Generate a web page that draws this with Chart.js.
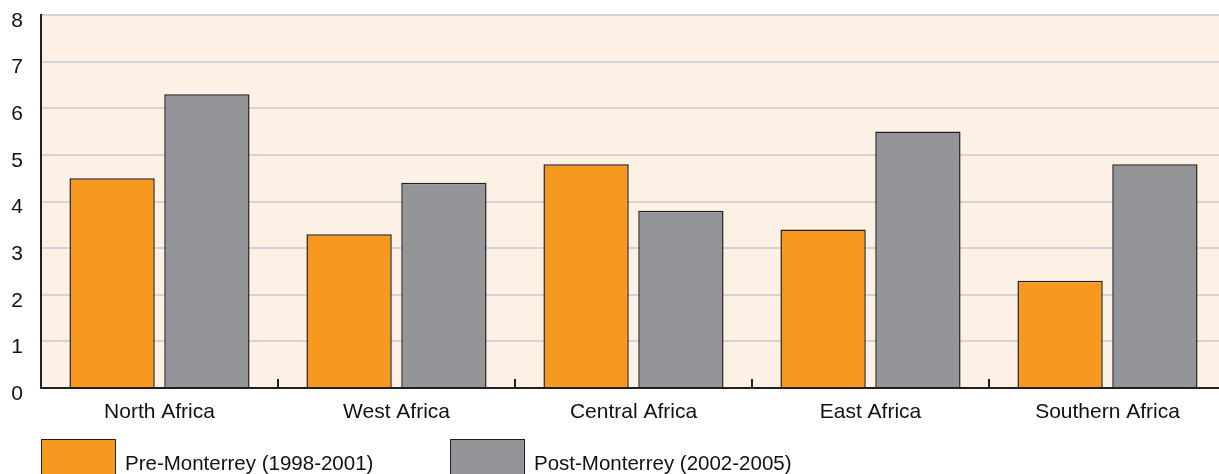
<!DOCTYPE html>
<html>
<head>
<meta charset="utf-8">
<script src="https://cdn.jsdelivr.net/npm/chart.js@4/dist/chart.umd.min.js"></script>
<style>
  html, body { margin: 0; padding: 0; background: #ffffff; overflow: hidden; width: 1219px; height: 474px; }
  #wrap { position: absolute; left: 0; top: 0; width: 1226px; height: 474px; }
  #legend { position: absolute; left: 41px; top: 439px; font-family: "Liberation Sans", Arial, sans-serif; font-size: 20.5px; color: #111; white-space: nowrap; }
  .item { position: absolute; top: 0; height: 40px; }
  .box { position: absolute; left: 0; top: 0; width: 73px; height: 40px; border: 1px solid #231f20; }
  .lbl { position: absolute; left: 84px; top: 12px; }
</style>
</head>
<body>
<div id="wrap"><canvas id="c" width="1226" height="474"></canvas></div>
<div id="legend"></div>
<script>
const categories = ['North Africa', 'West Africa', 'Central Africa', 'East Africa', 'Southern Africa'];
const preMonterrey = [4.5, 3.3, 4.8, 3.4, 2.3];
const postMonterrey = [6.3, 4.4, 3.8, 5.5, 4.8];
const seriesNames = ['Pre-Monterrey (1998-2001)', 'Post-Monterrey (2002-2005)'];
const seriesColors = ['#f7981f', '#939598'];
const yTicks = [0, 1, 2, 3, 4, 5, 6, 7, 8];

const FONT = "'Liberation Sans', Arial, sans-serif";

const bgPlugin = {
  id: 'bg',
  beforeDraw(chart) {
    const a = chart.chartArea;
    const ctx = chart.ctx;
    ctx.save();
    ctx.fillStyle = '#fdf1e5';
    ctx.fillRect(a.left, a.top, a.right - a.left, a.bottom - a.top);
    ctx.restore();
  }
};

new Chart(document.getElementById('c'), {
  type: 'bar',
  data: {
    labels: categories,
    datasets: [
      { label: seriesNames[0], data: preMonterrey, backgroundColor: seriesColors[0], borderColor: '#231f20', borderWidth: 1.5 },
      { label: seriesNames[1], data: postMonterrey, backgroundColor: seriesColors[1], borderColor: '#231f20', borderWidth: 1.5 }
    ]
  },
  options: {
    responsive: false,
    animation: false,
    layout: { padding: { top: 15, right: 0, left: 0, bottom: 0 } },
    datasets: { bar: { categoryPercentage: 0.8, barPercentage: 0.9 } },
    plugins: { legend: { display: false }, tooltip: { enabled: false } },
    scales: {
      x: {
        afterFit(s) { s.height = 474 - 388; s.paddingLeft = 0; s.paddingRight = 0; },
        grid: { display: true, drawOnChartArea: false, drawTicks: true, tickLength: -9, color: '#231f20', lineWidth: 2 },
        border: { display: true, color: '#231f20', width: 2 },
        ticks: { color: '#111', font: { family: FONT, size: 21 }, padding: 21 }
      },
      y: {
        min: 0, max: 8,
        afterFit(s) { s.width = 41; s.paddingTop = 0; s.paddingBottom = 0; },
        afterBuildTicks(s) { s.ticks = yTicks.map(v => ({ value: v })); },
        grid: { drawTicks: false, lineWidth: 2, color: (ctx) => (ctx.tick && ctx.tick.value === 0) ? 'rgba(0,0,0,0)' : '#d3d4d5' },
        border: { display: true, color: '#231f20', width: 2 },
        ticks: { color: '#111', font: { family: FONT, size: 21 }, padding: 18, labelOffset: 6 }
      }
    }
  },
  plugins: [bgPlugin]
});

const legend = document.getElementById('legend');
const offsets = [0, 409];
seriesNames.forEach((name, i) => {
  const it = document.createElement('div');
  it.className = 'item';
  it.style.left = offsets[i] + 'px';
  const b = document.createElement('div');
  b.className = 'box';
  b.style.background = seriesColors[i];
  const t = document.createElement('span');
  t.className = 'lbl';
  t.textContent = name;
  it.appendChild(b); it.appendChild(t);
  legend.appendChild(it);
});
</script>
</body>
</html>
